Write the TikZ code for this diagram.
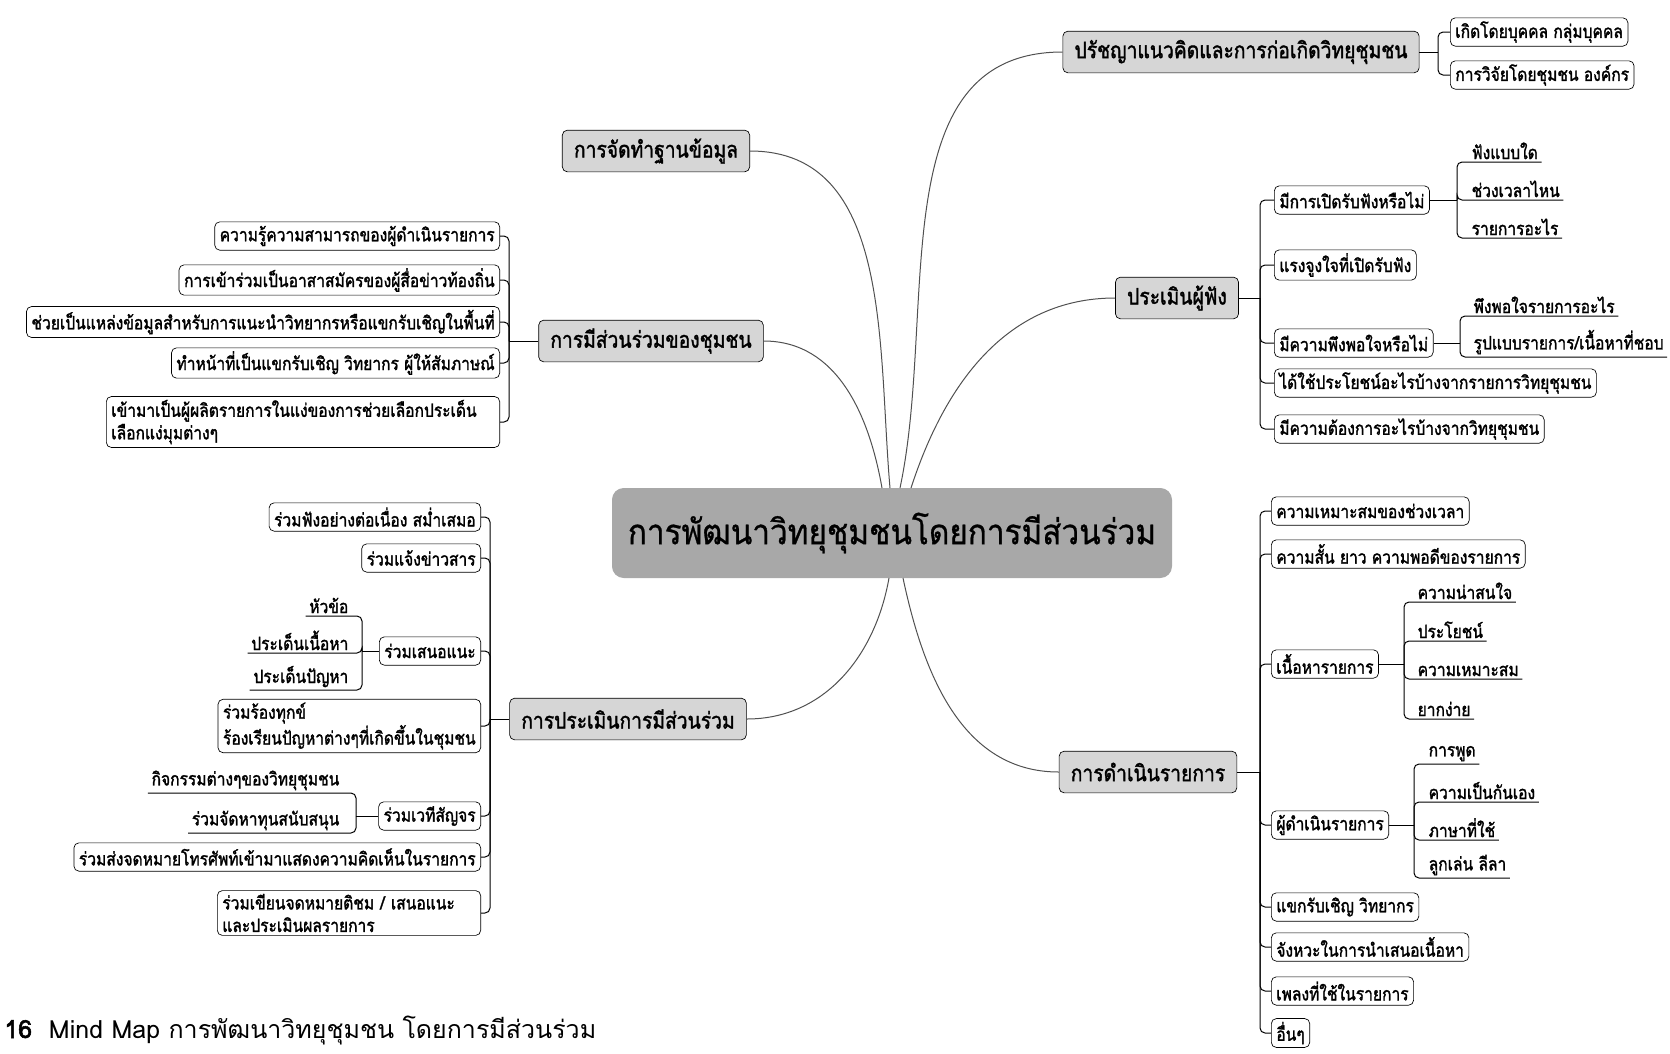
\documentclass[tikz,border=0pt]{standalone}
\usepackage{fontspec}
\setmainfont[Script=Thai]{Loma}
\newfontfamily\thaibox[Script=Thai,FakeStretch=0.85,FakeBold=1.6]{Loma}
\newfontfamily\thaihub[Script=Thai,FakeStretch=0.9,FakeBold=0.8]{Loma}
\newfontfamily\capbold[Script=Thai,FakeBold=2]{Loma}
\usepackage{tikz}
\usetikzlibrary{positioning}

\definecolor{hubgray}{HTML}{A8A8A8}
\definecolor{topicgray}{HTML}{D6D6D6}
\definecolor{wire}{HTML}{505050}

\tikzset{
	hub/.style={fill=hubgray, rounded corners=7pt, minimum width=336pt, minimum height=54pt,
		font=\thaihub\fontsize{21}{24}\selectfont},
	topic/.style={draw, fill=topicgray, rounded corners=3pt, minimum height=25pt, inner xsep=7pt,
		font=\thaibox\fontsize{13.6}{16}\selectfont},
	item/.style={draw, fill=white, rounded corners=3pt, minimum height=17pt, inner xsep=3pt,
		inner ysep=2pt, align=left, font=\thaibox\fontsize{11}{13.5}\selectfont},
	leaf/.style={inner xsep=2pt, inner ysep=1.5pt, font=\thaibox\fontsize{11}{13.5}\selectfont},
	wire/.style={draw=wire, line width=0.6pt},
	fork/.style={draw=black, line width=0.6pt, rounded corners=3pt}
}

\begin{document}
\begin{tikzpicture}[x=0.6pt,y=-0.6pt]
	\useasboundingbox (0,0) rectangle (1670,1053);

	% centre and main branches
	\node[hub]   (hub)   at (892,533)  {การพัฒนาวิทยุชุมชนโดยการมีส่วนร่วม};
	\node[topic] (phil)  at (1241,52)  {ปรัชญาแนวคิดและการก่อเกิดวิทยุชุมชน};
	\node[topic] (data)  at (656,151)  {การจัดทำฐานข้อมูล};
	\node[topic] (aud)   at (1177,298) {ประเมินผู้ฟัง};
	\node[topic] (comm)  at (651,341)  {การมีส่วนร่วมของชุมชน};
	\node[topic] (evalp) at (628,719)  {การประเมินการมีส่วนร่วม};
	\node[topic] (prog)  at (1148,772) {การดำเนินรายการ};

	\coordinate (hcomm) at (882,488);
	\coordinate (hdata) at (890,488);
	\coordinate (hphil) at (900,488);
	\coordinate (haud)  at (911,488);
	\coordinate (hevalp) at (889,578);
	\coordinate (hprog) at (903,578);

	\draw[wire] (hdata)  to[out=95,in=0]    (data.east);
	\draw[wire] (hcomm)  to[out=100,in=0]   (comm.east);
	\draw[wire] (hphil)  to[out=78,in=180]  (phil.west);
	\draw[wire] (haud)   to[out=72,in=180]  (aud.west);
	\draw[wire] (hevalp) to[out=-100,in=0]  (evalp.east);
	\draw[wire] (hprog)  to[out=-78,in=180] (prog.west);

	% philosophy
	\node[item,anchor=west] (c1) at (1450,32) {เกิดโดยบุคคล กลุ่มบุคคล};
	\node[item,anchor=west] (c2) at (1450,75) {การวิจัยโดยชุมชน องค์กร};
	\coordinate (kphil) at (1438,52);
	\draw[fork] (phil.east) -- (kphil);
	\foreach \c in {c1,c2}
		\draw[fork] (kphil) |- (\c.west);

	% audience
	\node[item,anchor=west] (a1) at (1274,200) {มีการเปิดรับฟังหรือไม่};
	\node[item,anchor=west] (a2) at (1274,265) {แรงจูงใจที่เปิดรับฟัง};
	\node[item,anchor=west] (a3) at (1274,343) {มีความพึงพอใจหรือไม่};
	\node[item,anchor=west] (a4) at (1274,383) {ได้ใช้ประโยชน์อะไรบ้างจากรายการวิทยุชุมชน};
	\node[item,anchor=west] (a5) at (1274,429) {มีความต้องการอะไรบ้างจากวิทยุชุมชน};
	\coordinate (kaud) at (1260,298);
	\draw[fork] (aud.east) -- (kaud);
	\foreach \c in {a1,a2,a3,a4,a5}
		\draw[fork] (kaud) |- (\c.west);

	\node[leaf,anchor=south west] (l1) at (1468,162) {ฟังแบบใด};
	\node[leaf,anchor=south west] (l2) at (1468,200) {ช่วงเวลาไหน};
	\node[leaf,anchor=south west] (l3) at (1468,238) {รายการอะไร};
	\coordinate (ka1) at (1457,200);
	\draw[fork] (a1.east) -- (ka1);
	\foreach \c in {l1,l2,l3}
		\draw[fork] (ka1) |- (\c.south west) -- (\c.south east);

	\node[leaf,anchor=south west] (l4) at (1470,316) {พึงพอใจรายการอะไร};
	\node[leaf,anchor=south west] (l5) at (1470,357) {รูปแบบรายการ/เนื้อหาที่ชอบ};
	\coordinate (ka3) at (1460,343);
	\draw[fork] (a3.east) -- (ka3);
	\foreach \c in {l4,l5}
		\draw[fork] (ka3) |- (\c.south west) -- (\c.south east);

	% community participation
	\node[item,anchor=east] (m1) at (500,236) {ความรู้ความสามารถของผู้ดำเนินรายการ};
	\node[item,anchor=east] (m2) at (500,280) {การเข้าร่วมเป็นอาสาสมัครของผู้สื่อข่าวท้องถิ่น};
	\node[item,anchor=east] (m3) at (500,322) {ช่วยเป็นแหล่งข้อมูลสำหรับการแนะนำวิทยากรหรือแขกรับเชิญในพื้นที่};
	\node[item,anchor=east] (m4) at (500,363) {ทำหน้าที่เป็นแขกรับเชิญ วิทยากร ผู้ให้สัมภาษณ์};
	\node[item,anchor=east,text width=230pt] (m5) at (500,422)
		{เข้ามาเป็นผู้ผลิตรายการในแง่ของการช่วยเลือกประเด็น\\เลือกแง่มุมต่างๆ};
	\coordinate (kcomm) at (509,341);
	\draw[fork] (comm.west) -- (kcomm);
	\foreach \c in {m1,m2,m3,m4,m5}
		\draw[fork] (kcomm) |- (\c.east);

	% evaluation of participation
	\node[item,anchor=east] (e1) at (481,517) {ร่วมฟังอย่างต่อเนื่อง สม่ำเสมอ};
	\node[item,anchor=east] (e2) at (481,558) {ร่วมแจ้งข่าวสาร};
	\node[item,anchor=east] (e3) at (481,651) {ร่วมเสนอแนะ};
	\node[item,anchor=east] (e4) at (481,726) {ร่วมร้องทุกข์\\ร้องเรียนปัญหาต่างๆที่เกิดขึ้นในชุมชน};
	\node[item,anchor=east] (e5) at (481,816) {ร่วมเวทีสัญจร};
	\node[item,anchor=east] (e6) at (481,857) {ร่วมส่งจดหมายโทรศัพท์เข้ามาแสดงความคิดเห็นในรายการ};
	\node[item,anchor=east,text width=152pt] (e7) at (481,913) {ร่วมเขียนจดหมายติชม / เสนอแนะ\\และประเมินผลรายการ};
	\coordinate (kevalp) at (490,719);
	\draw[fork] (evalp.west) -- (kevalp);
	\foreach \c in {e1,e2,e3,e4,e5,e6,e7}
		\draw[fork] (kevalp) |- (\c.east);

	\node[leaf,anchor=south east] (s1) at (352,616) {หัวข้อ};
	\node[leaf,anchor=south east] (s2) at (352,653) {ประเด็นเนื้อหา};
	\node[leaf,anchor=south east] (s3) at (352,690) {ประเด็นปัญหา};
	\coordinate (ke3) at (362,651);
	\draw[fork] (e3.west) -- (ke3);
	\foreach \c in {s1,s2,s3}
		\draw[fork] (ke3) |- (\c.south east) -- (\c.south west);

	\node[leaf,anchor=south east] (s4) at (343,793) {กิจกรรมต่างๆของวิทยุชุมชน};
	\node[leaf,anchor=south east] (s5) at (343,833) {ร่วมจัดหาทุนสนับสนุน};
	\coordinate (ke5) at (356,816);
	\draw[fork] (e5.west) -- (ke5);
	\foreach \c in {s4,s5}
		\draw[fork] (ke5) |- (\c.south east) -- (\c.south west);

	% programme
	\node[item,anchor=west] (p1) at (1271,511)  {ความเหมาะสมของช่วงเวลา};
	\node[item,anchor=west] (p2) at (1271,554)  {ความสั้น ยาว ความพอดีของรายการ};
	\node[item,anchor=west] (p3) at (1271,664)  {เนื้อหารายการ};
	\node[item,anchor=west] (p4) at (1271,825)  {ผู้ดำเนินรายการ};
	\node[item,anchor=west] (p5) at (1271,907)  {แขกรับเชิญ วิทยากร};
	\node[item,anchor=west] (p6) at (1271,947)  {จังหวะในการนำเสนอเนื้อหา};
	\node[item,anchor=west] (p7) at (1271,991)  {เพลงที่ใช้ในรายการ};
	\node[item,anchor=west] (p8) at (1271,1033) {อื่นๆ};
	\coordinate (kprog) at (1260,772);
	\draw[fork] (prog.east) -- (kprog);
	\foreach \c in {p1,p2,p3,p4,p5,p6,p7,p8}
		\draw[fork] (kprog) |- (\c.west);

	\node[leaf,anchor=south west] (t1) at (1414,602) {ความน่าสนใจ};
	\node[leaf,anchor=south west] (t2) at (1414,641) {ประโยชน์};
	\node[leaf,anchor=south west] (t3) at (1414,679) {ความเหมาะสม};
	\node[leaf,anchor=south west] (t4) at (1414,719) {ยากง่าย};
	\coordinate (kp3) at (1404,664);
	\draw[fork] (p3.east) -- (kp3);
	\foreach \c in {t1,t2,t3,t4}
		\draw[fork] (kp3) |- (\c.south west) -- (\c.south east);

	\node[leaf,anchor=south west] (u1) at (1425,764) {การพูด};
	\node[leaf,anchor=south west] (u2) at (1425,802) {ความเป็นกันเอง};
	\node[leaf,anchor=south west] (u3) at (1425,840) {ภาษาที่ใช้};
	\node[leaf,anchor=south west] (u4) at (1425,878) {ลูกเล่น ลีลา};
	\coordinate (kp4) at (1414,825);
	\draw[fork] (p4.east) -- (kp4);
	\foreach \c in {u1,u2,u3,u4}
		\draw[fork] (kp4) |- (\c.south west) -- (\c.south east);

	% caption
	\node[anchor=west,inner sep=0pt,font=\fontsize{15}{18}\selectfont] (cap) at (4,1030)
		{{\capbold 16}\ \ Mind Map การพัฒนาวิทยุชุมชน โดยการมีส่วนร่วม};
\end{tikzpicture}
\end{document}
